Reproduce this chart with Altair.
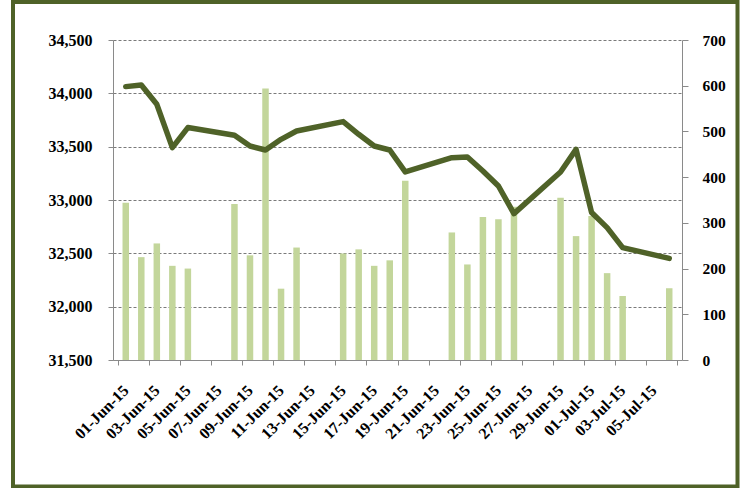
import json
import altair as alt
import pandas as pd

# ---- data ----
dates = ["2015-06-01", "2015-06-02", "2015-06-03", "2015-06-04", "2015-06-05",
         "2015-06-08", "2015-06-09", "2015-06-10", "2015-06-11", "2015-06-12",
         "2015-06-15", "2015-06-16", "2015-06-17", "2015-06-18", "2015-06-19",
         "2015-06-22", "2015-06-23", "2015-06-24", "2015-06-25", "2015-06-26",
         "2015-06-29", "2015-06-30", "2015-07-01", "2015-07-02", "2015-07-03",
         "2015-07-06"]
volume = [344, 225, 255, 206, 200,
          341, 229, 594, 156, 246,
          233, 242, 206, 218, 392,
          279, 209, 313, 308, 335,
          355, 271, 315, 190, 140,
          157]
close = [34063, 34078, 33897, 33491, 33679,
         33607, 33506, 33469, 33569, 33647,
         33735, 33616, 33506, 33469, 33263,
         33397, 33403, 33272, 33131, 32872,
         33263, 33475, 32882, 32741, 32554,
         32453]
tick_labels = ["01-Jun-15", "03-Jun-15", "05-Jun-15", "07-Jun-15", "09-Jun-15",
               "11-Jun-15", "13-Jun-15", "15-Jun-15", "17-Jun-15", "19-Jun-15",
               "21-Jun-15", "23-Jun-15", "25-Jun-15", "27-Jun-15", "29-Jun-15",
               "01-Jul-15", "03-Jul-15", "05-Jul-15"]
left_ticks = [31500, 32000, 32500, 33000, 33500, 34000, 34500]
right_ticks = [0, 100, 200, 300, 400, 500, 600, 700]

start = pd.Timestamp(dates[0])
day = [(pd.Timestamp(d) - start).days for d in dates]
df = pd.DataFrame({"date": dates, "day": day, "volume": volume, "close": close})

n_days = 36
W, H = 569, 320
PAD = {"left": 113, "top": 40, "right": 742 - 113 - W, "bottom": 488 - 40 - H}
day_px = W / n_days

FONT = "Liberation Serif"
AX_GRAY = "#8a8a8a"
LINE_COL = "#4F6228"
BAR_COL = "#C3D69B"

tick_vals = [-0.5 + 2 * i for i in range(19)]
label_expr = ("(" + json.dumps(tick_labels) + ")[(datum.value + 0.5) / 2] || ''")

x_scale = alt.Scale(domain=[-0.5, n_days - 0.5], nice=False, zero=False)
x_axis = alt.Axis(values=tick_vals, labelExpr=label_expr, labelAngle=-45,
                  labelOffset=day_px / 2 - 6, labelAlign="right", labelBaseline="top",
                  labelPadding=17, tickSize=5, tickColor=AX_GRAY,
                  domainColor=AX_GRAY, grid=False, title=None,
                  labelFont=FONT, labelFontSize=16, labelFontWeight="bold",
                  labelColor="black", labelOverlap=False, labelBound=False,
                  labelFlush=False)

bars = alt.Chart(df).mark_bar(size=6.5, color=BAR_COL).encode(
    x=alt.X("day:Q", scale=x_scale, axis=x_axis),
    y=alt.Y("volume:Q", scale=alt.Scale(domain=[0, 700], nice=False),
            axis=alt.Axis(orient="right", values=right_ticks, title=None,
                          grid=False, tickSize=6, labelPadding=14,
                          tickColor=AX_GRAY, domainColor=AX_GRAY,
                          labelFont=FONT, labelFontSize=15.5,
                          labelFontWeight="bold", labelColor="black")),
)

line = alt.Chart(df).mark_line(color=LINE_COL, strokeWidth=5.5,
                               strokeJoin="round", strokeCap="round").encode(
    x=alt.X("day:Q", scale=x_scale, axis=x_axis),
    y=alt.Y("close:Q", scale=alt.Scale(domain=[31500, 34500], nice=False, zero=False),
            axis=alt.Axis(orient="left", values=left_ticks, format=",.0f",
                          title=None, grid=True, gridDash=[3, 2],
                          gridColor="#7a7a7a", gridWidth=1,
                          tickSize=5, labelPadding=16,
                          tickColor=AX_GRAY, domainColor=AX_GRAY,
                          labelFont=FONT, labelFontSize=16,
                          labelFontWeight="bold", labelColor="black")),
)

frame = alt.Chart(pd.DataFrame({"k": [0]})).mark_rect(
    filled=False, stroke=LINE_COL, strokeWidth=4).encode(
    x=alt.value(13 - PAD["left"]), x2=alt.value(737.5 - PAD["left"]),
    y=alt.value(2 - PAD["top"]), y2=alt.value(486.5 - PAD["top"]),
)

chart = alt.layer(bars, line, frame).resolve_scale(y="independent").properties(
    width=W, height=H, padding=PAD,
    autosize=alt.AutoSizeParams(type="none"),
    background="white",
).configure_view(stroke=None)

chart.save("out.html", embed_options={"renderer": "svg", "actions": False})
